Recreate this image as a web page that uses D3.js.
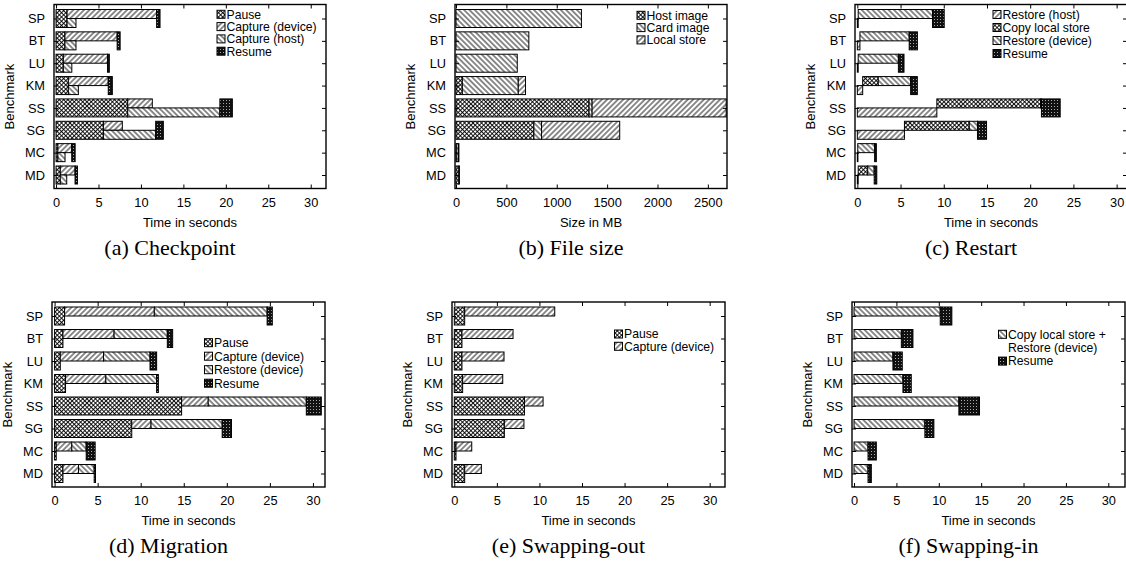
<!DOCTYPE html>
<html><head><meta charset="utf-8">
<script src="https://cdn.jsdelivr.net/npm/d3@7"></script>
<style>
body{margin:0;background:#fff;}
svg{display:block;}
</style></head><body>
<svg id="chart" width="1126" height="563"></svg>
<script>
// ---------------- DATA ----------------
const benchmarks = ["SP","BT","LU","KM","SS","SG","MC","MD"];
const timeTicks = [0,5,10,15,20,25,30];
const sizeTicks = [0,500,1000,1500,2000,2500];

// (a) Checkpoint (durations, seconds)
const ckptPause         = [1.30,1.05,0.86,1.45,8.44,5.58,0.22,0.50];
const ckptCaptureDevice = [10.55,6.15,5.20,4.70,2.90,2.23,1.63,1.74];
const ckptCaptureHost   = [1.05,1.30,1.00,1.18,10.86,6.16,0.84,0.76];
const ckptResume        = [0.40,0.35,0.22,0.48,1.47,0.90,0.40,0.28];

// (b) File size (MB)
const sizeHostImage  = [0,0,0,63,1321,773,3,28];
const sizeCardImage  = [1245,723,608,555,30,76,20,2];
const sizeLocalStore = [0,0,0,72,1331,776,2,0];

// (c) Restart (durations, seconds)
const rstRestoreHost   = [0.10,0.30,0.10,0.62,9.20,5.45,0.05,0.10];
const rstCopyLocal     = [0,0,0,1.80,12.0,7.50,0,1.10];
const rstRestoreDevice = [8.60,5.70,4.65,3.75,0.10,0.95,1.95,0.75];
const rstResume        = [1.35,0.95,0.65,0.77,2.17,1.05,0.20,0.30];

// (d) Migration (durations, seconds)
const migPause         = [1.16,0.97,0.66,1.27,14.75,8.96,0.19,0.97];
const migCaptureDevice = [10.42,5.94,5.02,4.68,3.09,2.24,1.81,1.81];
const migRestoreDevice = [13.10,6.18,5.40,5.90,11.39,8.26,1.67,1.82];
const migResume        = [0.60,0.62,0.77,0.20,1.74,1.08,1.04,0.15];

// (e) Swapping-out (durations, seconds)
const swoPause         = [1.22,0.90,0.90,0.98,8.24,5.88,0.20,1.22];
const swoCaptureDevice = [10.58,6.00,4.94,4.71,2.19,2.30,1.85,1.96];

// (f) Swapping-in (durations, seconds)
const swiCopyRestore = [10.17,5.58,4.59,5.77,12.37,8.36,1.65,1.65];
const swiResume      = [1.37,1.37,1.10,0.98,2.43,1.06,0.98,0.39];

// legend labels
const legendA = ["Pause","Capture (device)","Capture (host)","Resume"];
const legendB = ["Host image","Card image","Local store"];
const legendC = ["Restore (host)","Copy local store","Restore (device)","Resume"];
const legendD = ["Pause","Capture (device)","Restore (device)","Resume"];
const legendE = ["Pause","Capture (device)"];
const legendF = ["Copy local store +","Restore (device)","Resume"];

// ---------------- DRAW ----------------
const svg = d3.select("#chart");
const defs = svg.append("defs");
const SANS = "'Liberation Sans', Arial, Helvetica, sans-serif";
const SERIF = "'Liberation Serif', 'Times New Roman', serif";

function hatch(id, angle, sp, sw){
  const p = defs.append("pattern").attr("id",id).attr("patternUnits","userSpaceOnUse")
    .attr("width",sp).attr("height",sp).attr("patternTransform",`rotate(${angle})`);
  p.append("rect").attr("width",sp).attr("height",sp).attr("fill","#fff");
  p.append("line").attr("x1",sp/2).attr("y1",-1).attr("x2",sp/2).attr("y2",sp+1)
    .attr("stroke","#000").attr("stroke-width",sw);
}
hatch("fwd", 45, 3.8, 0.9);
hatch("back", -45, 3.8, 0.9);
(function(){
  const sp = 3.0;
  const p = defs.append("pattern").attr("id","cross").attr("patternUnits","userSpaceOnUse")
    .attr("width",sp).attr("height",sp).attr("patternTransform","rotate(45)");
  p.append("rect").attr("width",sp).attr("height",sp).attr("fill","#fff");
  p.append("line").attr("x1",sp/2).attr("y1",-1).attr("x2",sp/2).attr("y2",sp+1).attr("stroke","#000").attr("stroke-width",0.9);
  p.append("line").attr("y1",sp/2).attr("x1",-1).attr("y2",sp/2).attr("x2",sp+1).attr("stroke","#000").attr("stroke-width",0.9);
})();
(function(){
  const p = defs.append("pattern").attr("id","dark").attr("patternUnits","userSpaceOnUse")
    .attr("width",3).attr("height",3);
  p.append("rect").attr("width",3).attr("height",3).attr("fill","#111");
  p.append("rect").attr("x",1).attr("y",1).attr("width",1).attr("height",1).attr("fill","#aaa");
})();

// segment builders: return list of {i, x0, x1, lane, pat}
function segA(){
  const s=[];
  benchmarks.forEach((b,i)=>{
    const p=ckptPause[i], d=ckptCaptureDevice[i], h=ckptCaptureHost[i], r=ckptResume[i];
    s.push({i,x0:0,x1:p,lane:"full",pat:"cross"});
    s.push({i,x0:p,x1:p+d,lane:"top",pat:"fwd"});
    s.push({i,x0:p,x1:p+h,lane:"bottom",pat:"back"});
    const rs=p+Math.max(d,h);
    s.push({i,x0:rs,x1:rs+r,lane:"full",pat:"dark"});
  });
  return s;
}
function segB(){
  const s=[];
  benchmarks.forEach((b,i)=>{
    let acc=0;
    [[sizeHostImage,"cross"],[sizeCardImage,"back"],[sizeLocalStore,"fwd"]].forEach(([arr,pat])=>{
      s.push({i,x0:acc,x1:acc+arr[i],lane:"full",pat}); acc+=arr[i];
    });
  });
  return s;
}
function segC(){
  const s=[];
  benchmarks.forEach((b,i)=>{
    const h=rstRestoreHost[i], c=rstCopyLocal[i], d=rstRestoreDevice[i], r=rstResume[i];
    s.push({i,x0:0,x1:h,lane:"bottom",pat:"fwd"});
    s.push({i,x0:h,x1:h+c,lane:"top",pat:"cross"});
    s.push({i,x0:h+c,x1:h+c+d,lane:"top",pat:"back"});
    s.push({i,x0:h+c+d,x1:h+c+d+r,lane:"full",pat:"dark"});
  });
  return s;
}
function segD(){
  const s=[];
  benchmarks.forEach((b,i)=>{
    const p=migPause[i], c=migCaptureDevice[i], d=migRestoreDevice[i], r=migResume[i];
    s.push({i,x0:0,x1:p,lane:"full",pat:"cross"});
    s.push({i,x0:p,x1:p+c,lane:"top",pat:"fwd"});
    s.push({i,x0:p+c,x1:p+c+d,lane:"top",pat:"back"});
    s.push({i,x0:p+c+d,x1:p+c+d+r,lane:"full",pat:"dark"});
  });
  return s;
}
function segE(){
  const s=[];
  benchmarks.forEach((b,i)=>{
    const p=swoPause[i], c=swoCaptureDevice[i];
    s.push({i,x0:0,x1:p,lane:"full",pat:"cross"});
    s.push({i,x0:p,x1:p+c,lane:"top",pat:"fwd"});
  });
  return s;
}
function segF(){
  const s=[];
  benchmarks.forEach((b,i)=>{
    const c=swiCopyRestore[i], r=swiResume[i];
    s.push({i,x0:0,x1:c,lane:"top",pat:"back"});
    s.push({i,x0:c,x1:c+r,lane:"full",pat:"dark"});
  });
  return s;
}

const panels = [
  {left:54, top:4.5, w:272, h:184, dom:[-0.24,31.8], ticks:timeTicks, xlabel:"Time in seconds", caption:"(a) Checkpoint",
   segs:segA(), legend:legendA, lpat:["cross","fwd","back","dark"], lx:217, ly:14.3, lstep:12.3},
  {left:455, top:4.5, w:272, h:184, dom:[-10,2690], ticks:sizeTicks, xlabel:"Size in MB", caption:"(b) File size",
   segs:segB(), legend:legendB, lpat:["cross","back","fwd"], lx:637, ly:15.3, lstep:12.3},
  {left:855, top:4.5, w:272, h:184, dom:[-0.27,31.2], ticks:timeTicks, xlabel:"Time in seconds", caption:"(c) Restart",
   segs:segC(), legend:legendC, lpat:["fwd","cross","back","dark"], lx:993, ly:14.5, lstep:13},
  {left:52, top:302, w:273, h:185, dom:[-0.3,31.4], ticks:timeTicks, xlabel:"Time in seconds", caption:"(d) Migration",
   segs:segD(), legend:legendD, lpat:["cross","fwd","back","dark"], lx:204.5, ly:342.7, lstep:13.5},
  {left:452, top:302, w:273, h:185, dom:[-0.27,31.8], ticks:timeTicks, xlabel:"Time in seconds", caption:"(e) Swapping-out",
   segs:segE(), legend:legendE, lpat:["cross","fwd"], lx:614.5, ly:334, lstep:12.3},
  {left:852, top:302, w:273, h:185, dom:[-0.24,31.97], ticks:timeTicks, xlabel:"Time in seconds", caption:"(f) Swapping-in",
   segs:segF(), legend:legendF, lpat:["back",null,"dark"], lx:998.5, ly:334.3, lstep:13.4}
];

const BAR = 18;
panels.forEach(P=>{
  const g = svg.append("g");
  const x = d3.scaleLinear().domain(P.dom).range([P.left, P.left+P.w]);
  const y = d3.scalePoint().domain(benchmarks).range([P.top+14, P.top+P.h-13.5]);
  const bottom = P.top+P.h;

  // bars
  g.selectAll("rect.seg").data(P.segs.filter(d=>d.x1-d.x0>1e-6)).join("rect")
    .attr("class","seg")
    .attr("x",d=>x(d.x0))
    .attr("width",d=>Math.max(0.6, x(d.x1)-x(d.x0)))
    .attr("y",d=>{const c=y(benchmarks[d.i]); return d.lane==="bottom"? c : c-BAR/2;})
    .attr("height",d=>d.lane==="full"? BAR : BAR/2)
    .attr("fill",d=>`url(#${d.pat})`)
    .attr("stroke","#000").attr("stroke-width",1);

  // axes (inward ticks, mirrored)
  const ax = g.append("g").attr("transform",`translate(0,${bottom})`)
    .call(d3.axisBottom(x).tickValues(P.ticks).tickSize(-4).tickPadding(9).tickFormat(d3.format("d")));
  const axt = g.append("g").attr("transform",`translate(0,${P.top})`)
    .call(d3.axisTop(x).tickValues(P.ticks).tickSize(-4).tickFormat(""));
  const ayl = g.append("g").attr("transform",`translate(${P.left},0)`)
    .call(d3.axisLeft(y).tickSize(-4).tickPadding(9));
  const ayr = g.append("g").attr("transform",`translate(${P.left+P.w},0)`)
    .call(d3.axisRight(y).tickSize(-4).tickFormat(""));
  [ax,axt,ayl,ayr].forEach(a=>{
    a.select(".domain").remove();
    a.attr("font-family",SANS).attr("font-size",12.8);
    a.selectAll("line").attr("stroke","#000").attr("stroke-width",1);
    a.selectAll("text").attr("fill","#000");
  });

  // frame
  g.append("rect").attr("x",P.left).attr("y",P.top).attr("width",P.w).attr("height",P.h)
    .attr("fill","none").attr("stroke","#000").attr("stroke-width",1.4);

  // axis titles
  g.append("text").attr("x",P.left+P.w/2).attr("y",bottom+38).attr("text-anchor","middle")
    .attr("font-family",SANS).attr("font-size",13).text(P.xlabel);
  g.append("text").attr("transform",`translate(${P.left-40},${P.top+P.h/2}) rotate(-90)`)
    .attr("text-anchor","middle").attr("font-family",SANS).attr("font-size",13).text("Benchmark");

  // caption
  g.append("text").attr("x",P.left+P.w/2-20).attr("y",bottom+66).attr("text-anchor","middle")
    .attr("font-family",SERIF).attr("font-size",22).text(P.caption);

  // legend
  P.legend.forEach((lab,k)=>{
    const cy = P.ly + k*P.lstep;
    if(P.lpat[k]){
      g.append("rect").attr("x",P.lx).attr("y",cy-4).attr("width",8).attr("height",8)
        .attr("fill",`url(#${P.lpat[k]})`).attr("stroke","#000").attr("stroke-width",1);
    }
    g.append("text").attr("x",P.lx+9.5).attr("y",cy).attr("dy","0.36em")
      .attr("font-family",SANS).attr("font-size",12.2).text(lab);
  });
});
</script></body></html>
